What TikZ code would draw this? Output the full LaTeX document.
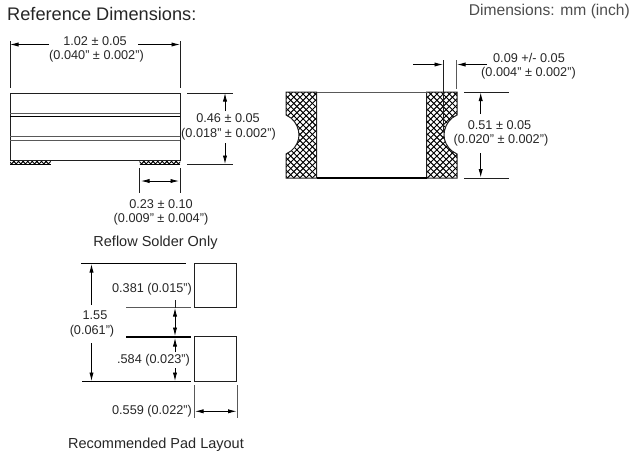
\documentclass[tikz,border=0pt]{standalone}
\usepackage{fontspec}
\setmainfont{Liberation Sans}
\usetikzlibrary{arrows.meta}
\definecolor{edge}{gray}{0.12}
\definecolor{soft}{gray}{0.35}
\tikzset{
  x=1pt,y=-1pt,
  outline/.style={draw=edge,line width=1pt},
  ext/.style={draw=edge,line width=0.8pt},
  extsoft/.style={draw=soft,line width=1pt},
  dimline/.style={draw=black,line width=0.8pt,-{Latex[length=8.5pt,width=4.2pt]}},
  dimboth/.style={draw=black,line width=0.8pt,{Latex[length=8.5pt,width=4.2pt]}-{Latex[length=8.5pt,width=4.2pt]}},
  lab/.style={inner sep=0pt,font=\fontsize{12.7}{15}\selectfont,text=black!85},
  caption/.style={inner sep=0pt,font=\fontsize{14.5}{17}\selectfont,text=black!85},
  hatchline/.style={draw=black,line width=0.95pt},
}
\newcommand{\hatchfill}[4]{%
  \begin{scope}
    \clip #1;
    \foreach \k in {-40,...,40}{
      \draw[hatchline] (#2+\k*4.6,#3) -- ++(#4,#4);
      \draw[hatchline] (#2+\k*4.6,#3) -- ++(-#4,#4);
    }
  \end{scope}}
\newcommand{\hatchbig}[4]{%
  \begin{scope}
    \clip #1;
    \foreach \k in {-40,...,40}{
      \draw[hatchline] (#2+\k*6.2,#3) -- ++(#4,#4);
      \draw[hatchline] (#2+\k*6.2,#3) -- ++(-#4,#4);
    }
  \end{scope}}
\begin{document}
\begin{tikzpicture}
\useasboundingbox (0,0) rectangle (633,456);
% titles
\node[inner sep=0pt,anchor=west,font=\fontsize{18.2}{21}\selectfont,text=black!85] (title) at (7,14) {Reference Dimensions:};
\node[inner sep=0pt,anchor=east,font=\fontsize{15.6}{18}\selectfont,text=black!70] (units) at (630,11) {Dimensions: mm (inch)};

% --- side view ---
\hatchfill{(10,160) rectangle (50.5,164)}{30}{150}{30}
\hatchfill{(139.5,160) rectangle (180,164)}{160}{150}{30}
\draw[outline] (10,93) rectangle (180,160);
\draw[extsoft] (10,113) -- (180,113);
\draw[draw=black,line width=1.1pt] (10,116.3) -- (180,116.3);
\draw[extsoft] (10,136.7) -- (180,136.7);
\draw[extsoft] (10,140) -- (180,140);
\draw[draw=black,line width=1pt] (10,164) -- (50.5,164);
\draw[draw=black,line width=1pt] (139.5,164) -- (180,164);
% width dim
\coordinate (wl) at (10,44.5); \coordinate (wr) at (180,44.5);
\coordinate (wla) at (49,44.5); \coordinate (wra) at (138,44.5);
\draw[ext] (10,41) -- (10,88);
\draw[ext] (180,41) -- (180,88);
\draw[dimline] (wla) -- (wl);
\draw[dimline] (wra) -- (wr);
\node[lab] (w1) at (95,41) {1.02 ± 0.05};
\node[lab] (w2) at (96.5,56.5) {(0.040" ± 0.002")};
% height dim
\draw[ext] (187,93) -- (233,93);
\draw[ext] (187,164) -- (233,164);
\coordinate (hu) at (225,93); \coordinate (hua) at (225,111);
\coordinate (hd) at (225,164); \coordinate (hda) at (225,143);
\draw[dimline] (hua) -- (hu);
\draw[dimline] (hda) -- (hd);
\node[lab] (h1) at (228,118) {0.46 ± 0.05};
\node[lab] (h2) at (228.5,134.5) {(0.018" ± 0.002")};
% pad width dim
\draw[ext] (139.5,168) -- (139.5,193);
\draw[ext] (180,168) -- (180,193);
\coordinate (pl) at (141,181); \coordinate (pr) at (179,181);
\draw[dimboth] (pl) -- (pr);
\node[lab] (p1) at (161,204) {0.23 ± 0.10};
\node[lab] (p2) at (161,219.5) {(0.009" ± 0.004")};
\node[caption] (reflow) at (155.5,243) {Reflow Solder Only};

% --- bottom view ---
\def\leftshape{(286,92) -- (316.7,92) -- (316.7,178) -- (286,178) -- (286,154) -- (291,151) .. controls (296,147) and (299,141) .. (299,135) .. controls (299,129) and (296,122) .. (291,118) -- (286,115) -- cycle}
\def\rightshape{(426.7,92) -- (457,92) -- (457,115) -- (452,118) .. controls (447,122) and (444,129) .. (444,135) .. controls (444,141) and (447,147) .. (452,151) -- (457,154) -- (457,178) -- (426.7,178) -- cycle}
\hatchbig{\leftshape}{300}{60}{140}
\hatchbig{\rightshape}{440}{60}{140}
\draw[outline,line join=miter] \leftshape;
\draw[outline,line join=miter] \rightshape;
\draw[extsoft] (316.7,92) -- (426.7,92);
\draw[draw=black,line width=1.1pt] (316.7,178) -- (426.7,178);
% thickness dim
\draw[ext] (443.5,60) -- (443.5,132);
\draw[extsoft] (456.7,60) -- (456.7,89);
\coordinate (tl) at (443,64.5); \coordinate (tla) at (413,64.5);
\coordinate (tr) at (457,64.5); \coordinate (tra) at (487,64.5);
\draw[dimline] (tla) -- (tl);
\draw[dimline] (tra) -- (tr);
\node[lab] (t1) at (529,58) {0.09 +/- 0.05};
\node[lab] (t2) at (528.5,73.5) {(0.004" ± 0.002")};
% length dim
\draw[ext] (464,92) -- (509,92);
\draw[ext] (464,178) -- (509,178);
\coordinate (lu) at (480.7,92.5); \coordinate (lua) at (480.7,114);
\coordinate (ld) at (480.7,177.5); \coordinate (lda) at (480.7,153);
\draw[dimline] (lua) -- (lu);
\draw[dimline] (lda) -- (ld);
\node[lab] (l1) at (499.5,125) {0.51 ± 0.05};
\node[lab] (l2) at (501,140) {(0.020" ± 0.002")};

% --- pad layout ---
\draw[outline] (194,263.7) rectangle (236.8,307.7);
\draw[outline] (194,336.7) rectangle (236.8,381.3);
\draw[draw=black,line width=0.9pt] (81,263.5) -- (186,263.5);
\draw[extsoft] (126,307.7) -- (191,307.7);
\draw[draw=black,line width=2pt] (126,336.7) -- (191,336.7);
\draw[draw=black,line width=1.1pt] (82,381.3) -- (191,381.3);
\coordinate (au) at (91.5,264); \coordinate (aua) at (91.5,305);
\coordinate (ad) at (91.5,381); \coordinate (ada) at (91.5,343);
\draw[dimline] (aua) -- (au);
\draw[dimline] (ada) -- (ad);
\node[lab] (a1) at (95,314.7) {1.55};
\node[lab] (a2) at (92,331.5) {(0.061")};
\coordinate (bt) at (175,300); \coordinate (bu) at (175,308); \coordinate (bd) at (175,336);
\draw[ext] (bt) -- (bu);
\draw[dimboth] (bu) -- (bd);
\coordinate (cu) at (175,338); \coordinate (cua) at (175,352);
\coordinate (cd) at (175,381); \coordinate (cda) at (175,368);
\draw[dimline] (cua) -- (cu);
\draw[dimline] (cda) -- (cd);
\node[lab,fill=white,inner xsep=0pt,inner ysep=1pt] (c1) at (153.5,360) {.584 (0.023")};
\node[lab] (b1) at (152,289.5) {0.381 (0.015")};
\draw[extsoft] (194,385) -- (194,418);
\draw[extsoft] (237,385) -- (237,418);
\coordinate (el) at (195,411.3); \coordinate (er) at (236.5,411.3);
\draw[dimboth] (el) -- (er);
\node[lab] (e1) at (152,411) {0.559 (0.022")};
\node[caption] (pad) at (156,445) {Recommended Pad Layout};
\end{tikzpicture}
\end{document}
